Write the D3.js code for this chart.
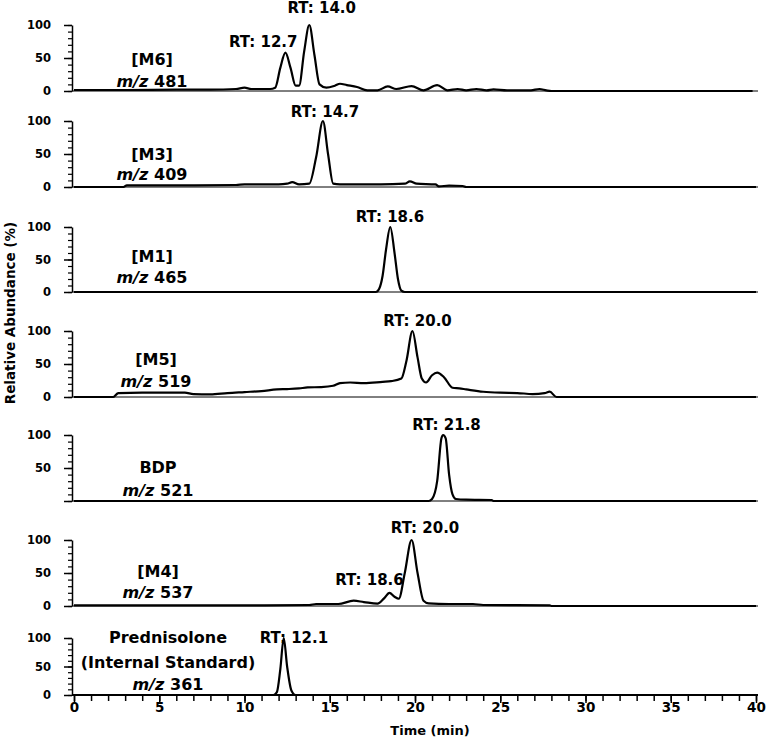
<!DOCTYPE html>
<html>
<head>
<meta charset="utf-8">
<script src="https://cdn.jsdelivr.net/npm/d3@7"></script>
<style>
  body { margin: 0; background: #fff; }
  text { font-family: "DejaVu Sans", sans-serif; font-weight: bold; fill: #000; }
</style>
</head>
<body>
<div id="chart"></div>
<script>
// chromatogram traces, [time (min), relative abundance (%)]
const traceM6 = [[0,1.5],[3,1.5],[6,2],[8,2],[9.5,3],[10,5],[10.4,3],[11.5,3],[11.8,5],[12.1,35],[12.4,58],[12.7,35],
  [13.0,8],[13.2,8],[13.5,60],[13.8,100],[14.1,55],[14.4,10],[14.8,5],[15.3,8],[15.6,11],[16.0,9],[16.6,6],[17.2,1],
  [17.8,1],[18.4,7],[18.9,3],[19.8,7.5],[20.5,1],[21.3,9],[21.9,1],[22.5,3],[23,1],[23.6,3],[24.2,1],[24.6,2.5],
  [25.4,1],[26.8,1],[27.3,3],[27.7,1],[28,0],[39.8,0]];
const traceM3 = [[0,0],[2.9,0],[3.1,2.5],[6,2.5],[9.5,3],[10,4],[12,4],[12.5,5],[12.8,7.5],[13.2,4],[13.8,5],[14.2,45],
  [14.6,100],[14.9,50],[15.2,5],[15.6,4],[17,4],[18,4],[19.4,5],[19.7,8.5],[20.1,5],[21.2,4],[21.4,1],[22,2],[22.8,1.5],
  [23,0],[40,0]];
const traceM1 = [[0,0],[17.7,0],[17.9,5],[18.1,25],[18.3,65],[18.55,100],[18.8,60],[19.0,20],[19.2,2],[19.4,0],[40,0]];
const traceM5 = [[0,0],[2.3,0],[2.6,6],[4,6.5],[6.5,6.5],[7,4.5],[8,4],[9,6],[10,7.5],[11,9],[11.9,11.5],[12.5,12],
  [13.2,13],[13.7,14.5],[14.5,15],[15.2,17],[15.6,21],[16.2,22],[17,21],[18.1,23],[18.6,24],[19.2,28],[19.5,55],
  [19.85,100],[20.15,60],[20.4,28],[20.65,22],[21,33],[21.3,37],[21.7,30],[22.2,14],[22.6,13],[23,11.5],[24,8],
  [25,6.5],[26,6],[26.9,4.5],[27.6,6],[27.9,8],[28.3,0],[40,0]];
const traceBDP = [[0,0],[20.8,0],[21.0,3],[21.3,30],[21.55,95],[21.65,100],[21.8,95],[22.0,40],[22.2,10],[22.4,3],
  [23,2],[24.5,1.5],[24.6,0],[40,0]];
const traceM4 = [[0,1],[5,1],[10,1],[13.8,1.5],[14.2,3],[15.5,3],[16.4,8],[17,6],[17.8,3.5],[18.2,12],[18.5,20],
  [18.8,14],[19.05,11],[19.4,50],[19.8,100],[20.15,50],[20.5,8],[20.8,4],[22,3],[23.4,3],[24,1.5],[27.9,1],[28,0],[40,0]];
const tracePred = [[0,0],[11.7,0],[11.9,5],[12.1,45],[12.3,100],[12.5,50],[12.75,8],[13.0,0],[40,0]];

const traces = [traceM6, traceM3, traceM1, traceM5, traceBDP, traceM4, tracePred];
const compounds = [["[M6]"], ["[M3]"], ["[M1]"], ["[M5]"], ["BDP"], ["[M4]"], ["Prednisolone", "(Internal Standard)"]];
const mzValues = ["481", "409", "465", "519", "521", "537", "361"];

// retention time annotations, anchored in data units (label centre / baseline)
const rtPanel = [0, 0, 1, 2, 3, 4, 5, 5, 6];
const rtText = ["RT: 12.7", "RT: 14.0", "RT: 14.7", "RT: 18.6", "RT: 20.0", "RT: 21.8", "RT: 20.0", "RT: 18.6", "RT: 12.1"];
const rtTime = [11.1, 14.53, 14.72, 18.53, 20.15, 21.85, 20.59, 17.33, 12.9];
const rtLevel = [67, 118, 106.5, 108, 107.5, 107.5, 110, 32, 91];

const yTicks = [0, 50, 100];
const xTicks = [0, 5, 10, 15, 20, 25, 30, 35, 40];

// layout
const width = 776, height = 743;
const axisX0 = 72;
const panels = [
  {top: 25, bottom: 91, labelX: 152, lines: [40, 62]},
  {top: 121, bottom: 187, labelX: 152, lines: [39, 59]},
  {top: 227, bottom: 292, labelX: 152, lines: [35, 56]},
  {top: 331, bottom: 397, labelX: 156, lines: [34, 56]},
  {top: 435, bottom: 501, labelX: 158, lines: [38, 61]},
  {top: 540, bottom: 606, labelX: 158, lines: [37, 58]},
  {top: 638, bottom: 695, labelX: 168, lines: [5, 30, 52]}
];

const svg = d3.select("#chart").append("svg")
  .attr("width", width)
  .attr("height", height);

const x = d3.scaleLinear().domain([0, 40]).range([74, 756]);

const line = d3.line()
  .x(d => x(d[0]))
  .curve(d3.curveMonotoneX);

panels.forEach(function (p, i) {
  const y = d3.scaleLinear().domain([0, 100]).range([p.bottom, p.top]);
  const g = svg.append("g");
  const last = i === panels.length - 1;

  // baseline
  g.append("line")
    .attr("x1", axisX0).attr("x2", x(40) + 2)
    .attr("y1", y(0)).attr("y2", y(0))
    .attr("stroke", "#000")
    .attr("stroke-width", last ? 2 : 1);

  // minor y ticks
  g.append("g")
    .attr("transform", "translate(" + axisX0 + ",0)")
    .call(d3.axisLeft(y).tickValues(d3.range(0, 101, 10)).tickSize(4).tickSizeOuter(0).tickFormat(""))
    .call(a => a.select(".domain").remove())
    .selectAll("line").attr("stroke-width", 1.2);

  // major y ticks
  const ya = g.append("g")
    .attr("transform", "translate(" + axisX0 + ",0)")
    .call(d3.axisLeft(y).tickValues(yTicks).tickSize(8).tickSizeOuter(0)
      .tickFormat(d => (i === 4 && d === 0) ? "" : d));
  ya.select(".domain").attr("stroke-width", 1.5);
  ya.selectAll("line").attr("stroke-width", 1.5);
  ya.selectAll("text")
    .attr("x", -21)
    .style("font-size", "11.5px");

  // trace
  g.append("path")
    .datum(traces[i])
    .attr("fill", "none")
    .attr("stroke", "#000")
    .attr("stroke-width", 2.2)
    .attr("stroke-linejoin", "round")
    .attr("d", line.y(d => y(d[1])));

  // compound label
  const names = compounds[i];
  names.forEach(function (n, k) {
    g.append("text")
      .attr("x", p.labelX)
      .attr("y", p.top + p.lines[k])
      .attr("text-anchor", "middle")
      .style("font-size", "16px")
      .text(n);
  });
  const mz = g.append("text")
    .attr("x", p.labelX)
    .attr("y", p.top + p.lines[names.length])
    .attr("text-anchor", "middle")
    .style("font-size", "16px");
  mz.append("tspan").style("font-style", "italic").text("m/z");
  mz.append("tspan").text(" " + mzValues[i]);

  // RT labels
  rtPanel.forEach(function (pi, k) {
    if (pi !== i) return;
    g.append("text")
      .attr("x", x(rtTime[k]))
      .attr("y", y(rtLevel[k]))
      .attr("text-anchor", "middle")
      .style("font-size", "15px")
      .text(rtText[k]);
  });

  if (last) {
    const minor = g.append("g")
      .attr("transform", "translate(0," + y(0) + ")")
      .call(d3.axisBottom(x).tickValues(d3.range(0, 41, 1)).tickSize(6).tickSizeOuter(0).tickFormat(""));
    minor.select(".domain").remove();
    minor.selectAll("line").attr("stroke-width", 1.5);

    const xa = g.append("g")
      .attr("transform", "translate(0," + y(0) + ")")
      .call(d3.axisBottom(x).tickValues(xTicks).tickSize(8).tickSizeOuter(0));
    xa.select(".domain").remove();
    xa.selectAll("line").attr("stroke-width", 1.5);
    xa.selectAll("text")
      .attr("dy", null)
      .attr("y", 17)
      .style("font-size", "13.5px");
  }
});

// axis titles
svg.append("text")
  .attr("transform", "translate(15,313) rotate(-90)")
  .attr("text-anchor", "middle")
  .style("font-size", "13.5px")
  .text("Relative Abundance (%)");

svg.append("text")
  .attr("x", 430)
  .attr("y", 735)
  .attr("text-anchor", "middle")
  .style("font-size", "13px")
  .text("Time (min)");
</script>
</body>
</html>
